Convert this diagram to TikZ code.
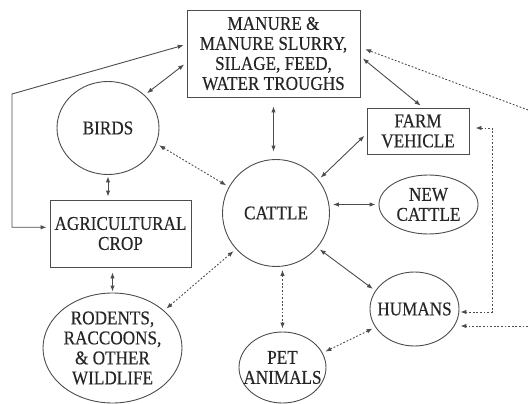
\documentclass[tikz,border=0pt]{standalone}
\usepackage{fontspec}
\setmainfont{Liberation Serif}[FakeStretch=0.88, FakeBold=0.3]
\usetikzlibrary{shapes.geometric,arrows.meta}

\begin{document}
\begin{tikzpicture}[
	x=1pt, y=-1pt,
	>={Latex[length=6pt,width=4.5pt]},
	every node/.style={font=\fontsize{19.5}{20}\selectfont, text=black!85, align=center, inner sep=0pt},
	boxnode/.style={shape=rectangle, draw=black!70, line width=0.9pt},
	roundnode/.style={shape=ellipse, draw=black!70, line width=0.9pt},
	conn/.style={draw=black!70, line width=0.9pt, shorten <=3pt, shorten >=3pt},
	dotconn/.style={conn, dash pattern=on 1.8pt off 1.8pt},
]
\useasboundingbox (0,0) rectangle (528,404);

% boxes
\node[boxnode, minimum width=173pt, minimum height=87pt] (manure) at (273.5,53.5) {MANURE \&\\MANURE SLURRY,\\SILAGE, FEED,\\WATER TROUGHS};
\node[boxnode, minimum width=102pt, minimum height=46pt] (farm) at (418,131) {FARM\\VEHICLE};
\node[boxnode, minimum width=141pt, minimum height=67pt] (crop) at (120.5,233.5) {AGRICULTURAL\\CROP};

% circles and ellipses
\node[roundnode, minimum width=102pt, minimum height=93pt, label=center:{BIRDS}] (birds) at (108,128) {};
\node[roundnode, minimum width=107pt, minimum height=107pt, label=center:{CATTLE}] (cattle) at (276,213) {};
\node[roundnode, minimum width=99pt, minimum height=59pt, label=center:{NEW\\CATTLE}] (newcattle) at (428.5,204.5) {};
\node[roundnode, minimum width=89pt, minimum height=74pt, label=center:{HUMANS}] (humans) at (414.5,309) {};
\node[roundnode, minimum width=87pt, minimum height=71pt, label=center:{PET\\ANIMALS}] (pet) at (282.5,367.5) {};
\node[roundnode, minimum width=139pt, minimum height=110pt, label=center:{RODENTS,\\RACCOONS,\\\& OTHER\\WILDLIFE}] (rodents) at (112.5,348) {};

\coordinate (bend) at (12,94);
\coordinate (edgetop) at (528,110);
\coordinate (rtop) at (492,128);
\coordinate (rbot) at (492,312);
\coordinate (edgebot) at (528,326);

% solid links
\draw[conn, <->] (birds.42) -- (manure.186);
\draw[conn, <->] (manure.174) -- (bend) |- (crop.175);
\draw[conn, <->, shorten <=1.5pt] (birds.south) -- (birds.south |- crop.north);
\draw[conn, <->, shorten <=5pt, shorten >=1pt] (rodents.north |- crop.south) -- (rodents.north);
\draw[conn, <->, shorten <=9pt, shorten >=7.5pt] (manure.south) -- (manure.south |- cattle.north);
\draw[conn, <->] (manure.-2) -- (farm.78);
\draw[conn, <->] (cattle.38) -- (farm.183);
\draw[conn, <->] (cattle.east |- newcattle.west) -- (newcattle.west);
\draw[conn, <->] (cattle.-40) -- (humans.155);

% dotted links
\draw[dotconn, <->] (birds.-18) -- (cattle.151);
\draw[dotconn, <->] (cattle.222) -- (rodents.36);
\draw[dotconn, <->] (pet.north |- cattle.south) -- (pet.north);
\draw[dotconn, <->] (pet.20) -- (humans.205);
\draw[dotconn, ->, shorten <=0pt, shorten >=5pt] (edgetop) -- (manure.4);
\draw[dotconn, <->, shorten <=6pt, shorten >=1pt] (rtop -| farm.east) -- (rtop) -- (rbot) -- (rbot -| humans.east);
\draw[dotconn, ->, shorten <=0pt, shorten >=1pt] (edgebot) -- (edgebot -| humans.east);
\end{tikzpicture}
\end{document}
